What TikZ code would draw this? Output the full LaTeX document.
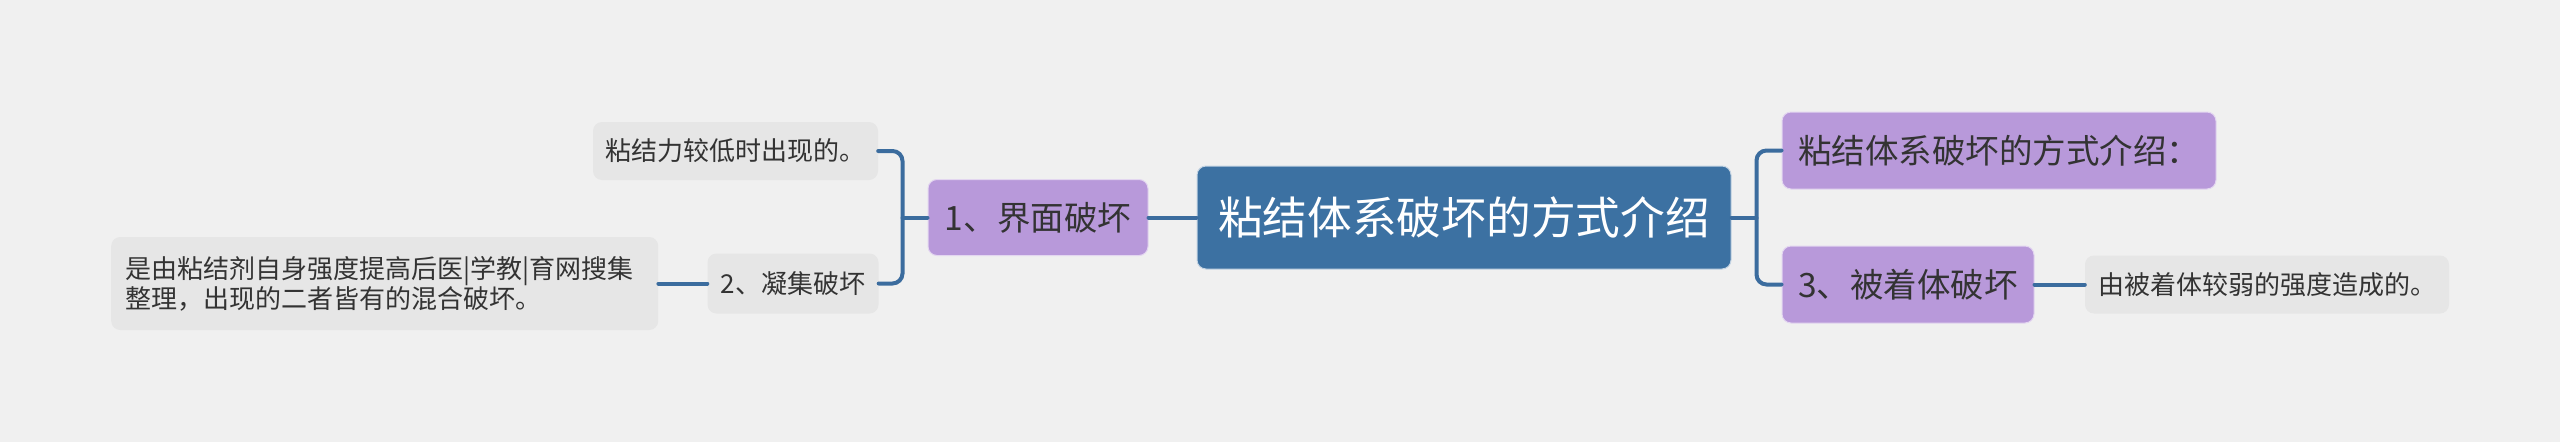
\documentclass[tikz,border=0pt]{standalone}
\usepackage{fontspec}
\setmainfont{Noto Sans CJK SC}
\usetikzlibrary{calc}
\setlength{\parindent}{0pt}
\definecolor{bgc}{HTML}{F0F0F0}
\definecolor{rootc}{HTML}{3C71A2}
\definecolor{purc}{HTML}{B899DA}
\definecolor{leafc}{HTML}{E6E6E6}
\definecolor{linec}{HTML}{3B6C9E}
\definecolor{txtc}{HTML}{333333}
\tikzset{
  box/.style={rectangle, rounded corners=9pt, inner sep=0pt, align=center, text=txtc},
  rootbox/.style={box, fill=rootc, draw=white!70!rootc, line width=1pt, text=white, font=\fontsize{44.7}{52}\selectfont},
  purbox/.style={box, fill=purc, draw=white!60!purc, line width=1pt, font=\fontsize{33.5}{40}\selectfont},
  leafbox/.style={box, fill=leafc, font=\fontsize{26}{30}\selectfont},
  conn/.style={draw=linec, line width=4pt, line cap=round},
  elbowconn/.style={conn, rounded corners=10pt}
}
\begin{document}
\begin{tikzpicture}[x=1pt,y=-1pt]
\fill[bgc] (0,0) rectangle (2560,442);
\useasboundingbox (0,0) rectangle (2560,442);
% nodes
\node[rootbox, minimum width=534pt, minimum height=103pt] (root) at (1464,217.5) {粘结体系破坏的方式介绍};
\node[purbox, minimum width=434pt, minimum height=77pt] (p1) at (1999,150.5) {粘结体系破坏的方式介绍：};
\node[purbox, minimum width=252pt, minimum height=77pt] (p3) at (1908,284.5) {3、被着体破坏};
\node[leafbox, minimum width=364pt, minimum height=58pt] (l3) at (2267,284.5) {由被着体较弱的强度造成的。};
\node[purbox, minimum width=220pt, minimum height=76pt] (b1) at (1038,217.5) {1、界面破坏};
\node[leafbox, minimum width=285pt, minimum height=58pt] (l1) at (735.5,151) {粘结力较低时出现的。};
\node[leafbox, minimum width=171pt, minimum height=60pt] (b2) at (793,283.5) {2、凝集破坏};
\node[leafbox, anchor=west, inner xsep=14pt, text width=519pt, minimum height=93pt, align=left] (l2) at (111,283.5) {是由粘结剂自身强度提高后医|学教|育网搜集\\整理，出现的二者皆有的混合破坏。};
% junctions
\coordinate (jr) at ($(root.east)+(25,0)$);
\coordinate (jl) at ($(b1.west)+(-25,0)$);
% connectors
\draw[conn] (root.west) -- (b1.east);
\draw[conn] (root.east) -- (jr);
\draw[elbowconn] (p1.west) -| (jr) |- (p3.west);
\draw[conn] (b1.west) -- (jl);
\draw[elbowconn] (l1.east) -| (jl) |- (b2.east);
\draw[conn] (b2.west) -- (l2.east);
\draw[conn] (p3.east) -- (l3.west);
\end{tikzpicture}
\end{document}
